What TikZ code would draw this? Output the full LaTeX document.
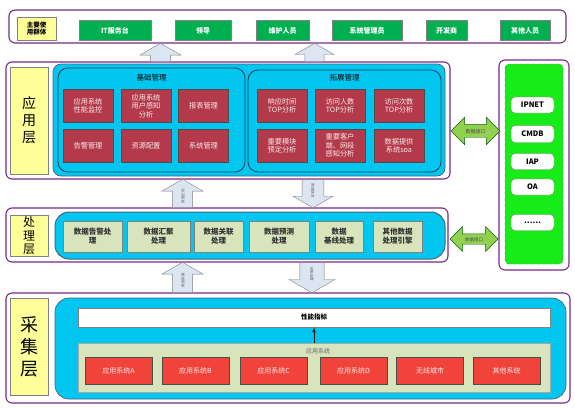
\documentclass[tikz,border=0pt]{standalone}
\usepackage{fontspec}
\setmainfont{Noto Sans CJK SC}
\usetikzlibrary{arrows.meta,positioning,shapes.arrows}
\definecolor{frm}{RGB}{118,42,140}
\definecolor{sky}{RGB}{0,198,240}
\definecolor{lbl}{RGB}{255,255,153}
\definecolor{usr}{RGB}{0,176,80}
\definecolor{mod}{RGB}{178,58,74}
\definecolor{src}{RGB}{240,68,58}
\definecolor{olv}{RGB}{216,228,188}
\definecolor{lime}{RGB}{24,236,24}
\definecolor{ink}{RGB}{30,60,90}
\definecolor{pale}{RGB}{220,230,242}
\definecolor{ifc}{RGB}{146,208,80}
\tikzset{
  shell/.style={draw=frm,line width=1.1pt,rounded corners=6pt,fill=white},
  tier/.style={draw=gray,fill=lbl,inner sep=0pt,align=center},
  pool/.style={draw=ink!80,line width=0.7pt,fill=sky,rounded corners=12pt},
  grp/.style={draw=ink,thick,fill=sky,rounded corners=10pt},
  who/.style={draw=gray,fill=usr,text=white,font=\fontsize{7}{8}\selectfont\bfseries,
    minimum height=20pt,inner sep=0pt},
  mbox/.style={draw=black!70,fill=mod,text=white!92!red,font=\fontsize{7.2}{8.4}\selectfont,
    align=center,minimum width=50pt,minimum height=33pt,inner sep=0pt},
  pbox/.style={draw=gray,fill=olv,font=\fontsize{7.5}{9}\selectfont\bfseries,text=black!80,
    align=center,minimum height=31pt,inner sep=0pt},
  sbox/.style={draw=black!70,fill=src,text=white!92!red,font=\fontsize{7}{8}\selectfont,
    minimum width=67pt,minimum height=27pt,inner sep=0pt},
  xbox/.style={draw=gray,fill=white,rounded corners=4pt,font=\fontsize{7.5}{8}\selectfont\bfseries,
    minimum width=43pt,minimum height=16pt,inner sep=0pt},
  pipe/.style={single arrow,draw=gray,fill=pale,font=\fontsize{3.6}{4}\selectfont,text=black!60,
    single arrow tip angle=120,text height=3.5pt,text depth=0pt,inner xsep=0.5pt,inner ysep=5pt,
    minimum width=41pt},
  link/.style={double arrow,draw=black!60!green,fill=ifc,font=\fontsize{5}{5}\selectfont,
    text=black!70,text height=4.5pt,text depth=0pt,inner xsep=0.5pt},
}

\begin{document}
\begin{tikzpicture}[x=1pt,y=-1pt]
\useasboundingbox (0,0) rectangle (575,408);

% ---- users ----
\node[shell,minimum width=557pt,minimum height=33pt] (users) at (287.5,26.5) {};
\node[tier,minimum width=39pt,minimum height=23pt,font=\fontsize{6.5}{7.5}\selectfont\bfseries] (usrL) at (36.5,28.5) {主要使\\用群体};
\node[who,minimum width=72pt] (u1) at (115,30.5) {IT服务台};
\node[who,minimum width=56pt] (u2) at (203,30.5) {领导};
\node[who,minimum width=53pt] (u3) at (282.5,30.5) {维护人员};
\node[who,minimum width=70pt] (u4) at (367,30.5) {系统管理员};
\node[who,minimum width=41pt] (u5) at (446.5,30.5) {开发商};
\node[who,minimum width=50pt] (u6) at (525,30.5) {其他人员};

% ---- application layer ----
\node[shell,minimum width=444pt,minimum height=117pt] (app) at (228,120.5) {};
\node[tier,minimum width=38pt,minimum height=107pt,font=\fontsize{14}{17}\selectfont] (appL) at (29,120.5) {应\\用\\层};
\node[pool,rounded corners=8pt,minimum width=392pt,minimum height=112pt] (appC) at (249,120) {};
\node[grp,minimum width=187pt,minimum height=104pt] (base) at (151.5,120) {};
\node[font=\fontsize{7.5}{8}\selectfont] (baseT) at (151.5,78) {基础管理};
\node[grp,minimum width=193pt,minimum height=102pt] (ext) at (344.5,121) {};
\node[font=\fontsize{7.5}{8}\selectfont] (extT) at (344.5,78) {拓展管理};

\node[mbox] (b1) at (88,106) {应用系统\\性能监控};
\node[mbox] (b2) at (146,106) {应用系统\\用户感知\\分析};
\node[mbox] (b3) at (203.5,106) {报表管理};
\node[mbox] (b4) at (88,145.5) {告警管理};
\node[mbox] (b5) at (146,145.5) {资源配置};
\node[mbox] (b6) at (203.5,145.5) {系统管理};

\node[mbox] (e1) at (282,106) {响应时间\\TOP分析};
\node[mbox] (e2) at (340,106) {访问人数\\TOP分析};
\node[mbox] (e3) at (399,106) {访问次数\\TOP分析};
\node[mbox] (e4) at (282,145.5) {重要模块\\预定分析};
\node[mbox] (e5) at (340,145.5) {重要客户\\端、网段\\感知分析};
\node[mbox] (e6) at (399,145.5) {数据提供\\系统soa};

% ---- outside systems ----
\node[shell,minimum width=70pt,minimum height=210pt] (xsys) at (534,165) {};
\node[draw=black!60,dashed,fill=lime,rounded corners=4pt,minimum width=58pt,minimum height=200pt] (xsysG) at (534,164) {};
\node[xbox] (x1) at (532.5,105) {IPNET};
\node[xbox,minimum height=17pt] (x2) at (532.5,134) {CMDB};
\node[xbox] (x3) at (532.5,161.5) {IAP};
\node[xbox] (x4) at (532.5,187) {OA};
\node[xbox] (x5) at (532.5,222.5) {……};

% ---- processing layer ----
\node[shell,minimum width=442pt,minimum height=54pt] (proc) at (227,235) {};
\node[tier,minimum width=38pt,minimum height=41pt,font=\fontsize{12}{13.5}\selectfont] (procL) at (29,235.5) {处\\理\\层};
\node[pool,line width=1pt,rounded corners=14pt,minimum width=390pt,minimum height=47pt] (procC) at (250,235.5) {};
\node[pbox,minimum width=59pt] (p1) at (92.5,236.5) {数据告警处\\理};
\node[pbox,minimum width=63pt] (p2) at (158.5,236.5) {数据汇聚\\处理};
\node[pbox,minimum width=49pt] (p3) at (218.5,236.5) {数据关联\\处理};
\node[pbox,minimum width=60pt] (p4) at (279,236.5) {数据预测\\处理};
\node[pbox,minimum width=48pt] (p5) at (339,236.5) {数据\\基线处理};
\node[pbox,minimum width=49pt] (p6) at (397.5,236.5) {其他数据\\处理引擎};

% ---- collection layer ----
\node[shell,minimum width=564pt,minimum height=110pt] (col) at (288,348) {};
\node[tier,minimum width=38pt,minimum height=97pt,font=\fontsize{18}{22}\selectfont] (colL) at (29,346.5) {采\\集\\层};
\node[pool,rounded corners=14pt,minimum width=511pt,minimum height=101pt] (colC) at (310.5,348.5) {};
\node[draw=gray,fill=white,minimum width=472pt,minimum height=19pt,font=\fontsize{6.5}{7}\selectfont\bfseries] (kpi) at (314,317.5) {性能指标};
\node[draw=gray!70,fill=olv,minimum width=472pt,minimum height=49pt] (apps) at (314,367.5) {};
\node[font=\fontsize{6}{6}\selectfont,text=black!60] (appsT) at (318,351) {应用系统};
\node[sbox] (s1) at (118.5,370.5) {应用系统A};
\node[sbox] (s2) at (195.5,370.5) {应用系统B};
\node[sbox] (s3) at (273.5,370.5) {应用系统C};
\node[sbox] (s4) at (353.5,370.5) {应用系统D};
\node[sbox] (s5) at (430,370.5) {无线城市};
\node[sbox] (s6) at (506.5,370.5) {其他系统};
\draw[-{Latex[length=5pt]},thick] (apps.north) -- (kpi.south);

% ---- flows between layers ----
\node[pipe,rotate=90,anchor=tail,minimum height=18pt] (a1) at (160.5,0 |- app.north) {};
\node[pipe,rotate=90,anchor=tail,minimum height=18pt,minimum width=39pt] (a2) at (314.5,0 |- app.north) {};
\node[pipe,rotate=90,anchor=tail,minimum height=28pt] (up1) at (182.5,0 |- proc.north) {数据应用};
\node[pipe,rotate=-90,anchor=tail,minimum height=28pt,minimum width=40pt,inner ysep=6.5pt] (dn1) at (313,0 |- app.south) {数据请求};
\node[pipe,rotate=90,anchor=tail,minimum height=30pt] (up2) at (182.5,0 |- col.north) {数据采集};
\node[pipe,rotate=-90,anchor=tail,minimum height=30pt,minimum width=46pt,inner ysep=6pt] (dn2) at (312,0 |- proc.south) {采集配置};

\node[link,minimum height=49pt,minimum width=24pt,inner ysep=4pt] (if1) at (475.5,131) {数据接口};
\node[link,minimum height=48pt,minimum width=19pt,inner ysep=3pt,font=\fontsize{4.5}{4.5}\selectfont,text height=4pt] (if2) at (474,239) {数据接口};
\end{tikzpicture}
\end{document}
